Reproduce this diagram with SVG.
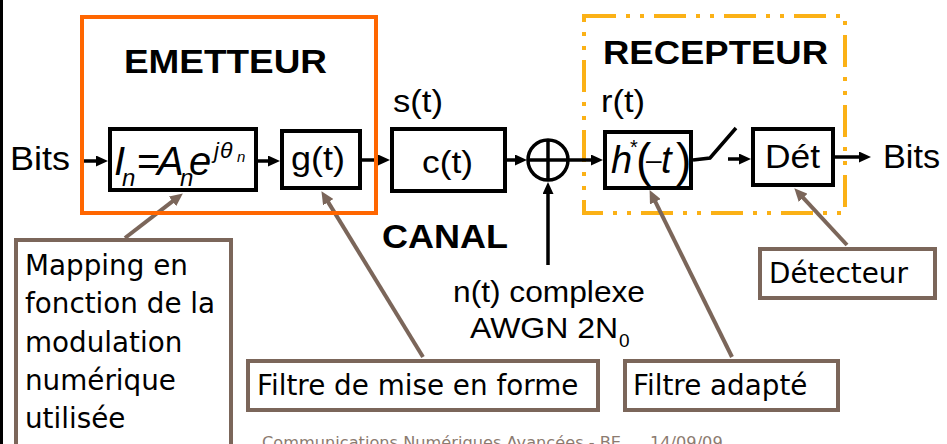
<svg xmlns="http://www.w3.org/2000/svg" width="947" height="444" viewBox="0 0 947 444">
<defs>
<style>
.a{font-family:"Liberation Sans",Arial,sans-serif;fill:#000}
.b{font-family:"Liberation Sans",Arial,sans-serif;font-weight:bold;fill:#000}
.i{font-family:"Liberation Sans",Arial,sans-serif;font-style:italic;fill:#000}
.t{font-family:"DejaVu Sans",Verdana,sans-serif;font-size:27.8px;fill:#000}
.blk{fill:#fff;stroke:#000;stroke-width:4}
.note{fill:#fff;stroke:#7b665a;stroke-width:4}
.w{stroke:#000;stroke-width:3.5;fill:none}
.br{stroke:#7b665a;stroke-width:4;fill:none}
</style>
<marker id="ah" markerUnits="userSpaceOnUse" markerWidth="12" markerHeight="11" refX="6" refY="5.5" orient="auto">
<path d="M0,0 L12,5.5 L0,11 z" fill="#000"/>
</marker>
<marker id="bh" markerUnits="userSpaceOnUse" markerWidth="13" markerHeight="12" refX="6" refY="6" orient="auto">
<path d="M0,0 L13,6 L0,12 z" fill="#7b665a"/>
</marker>
</defs>
<rect x="0" y="0" width="947" height="444" fill="#fff"/>
<rect x="0" y="0" width="3" height="444" fill="#000"/>

<g id="emetteur">
<text class="b" x="124" y="73" font-size="33" textLength="203" lengthAdjust="spacingAndGlyphs">EMETTEUR</text>
</g>
<g id="recepteur">
<rect x="584" y="16" width="261" height="197" fill="none" stroke="#FBB116" stroke-width="4" stroke-dasharray="32 10 4 10 4 10"/>
<text class="b" x="603" y="64" font-size="33" textLength="225" lengthAdjust="spacingAndGlyphs">RECEPTEUR</text>
</g>

<g id="connectors">
<line class="w" x1="83" y1="161" x2="102" y2="161" marker-end="url(#ah)"/>
<line class="w" x1="258" y1="161" x2="274" y2="161" marker-end="url(#ah)"/>
<line class="w" x1="362" y1="160" x2="384" y2="160" marker-end="url(#ah)"/>
<line class="w" x1="507" y1="160" x2="521" y2="160" marker-end="url(#ah)"/>
<line class="w" x1="568" y1="160" x2="597" y2="160" marker-end="url(#ah)"/>
<line class="w" x1="548" y1="265" x2="548" y2="188" marker-end="url(#ah)"/>
<polyline class="w" points="693,160 710,158 736,128"/>
<line class="w" x1="728" y1="159" x2="745" y2="159" marker-end="url(#ah)"/>
<line class="w" x1="835" y1="157" x2="865" y2="157" marker-end="url(#ah)"/>
<line class="br" x1="125" y1="238" x2="177.3" y2="197.7" marker-end="url(#bh)"/>
<line class="br" x1="423" y1="357" x2="325.1" y2="197.1" marker-end="url(#bh)"/>
<line class="br" x1="732" y1="357" x2="652.7" y2="196.4" marker-end="url(#bh)"/>
<line class="br" x1="847" y1="245" x2="799.1" y2="193.4" marker-end="url(#bh)"/>
</g>

<g id="orange-frame">
<rect x="82" y="17" width="294" height="196" fill="none" stroke="#FF6600" stroke-width="4"/>
</g>

<g id="bits-in">
<text class="a" x="10" y="170" font-size="34" textLength="60" lengthAdjust="spacingAndGlyphs">Bits</text>
</g>

<g id="mapping-block">
<rect class="blk" x="110" y="129" width="146" height="61"/>
<text class="i" font-size="40"><tspan x="114" y="175">I</tspan><tspan x="122" y="186" font-size="24">n</tspan><tspan x="137" y="175" font-style="normal">=</tspan><tspan x="157" y="175">A</tspan><tspan x="180" y="186" font-size="24">n</tspan><tspan x="189" y="175">e</tspan><tspan x="214" y="158" font-size="22">j</tspan><tspan x="220" y="158" font-size="23">θ</tspan><tspan x="237" y="162" font-size="15">n</tspan></text>
</g>

<g id="g-block">
<rect class="blk" x="282" y="131" width="78" height="57"/>
<text class="a" x="291" y="170" font-size="33" textLength="54" lengthAdjust="spacingAndGlyphs">g(t)</text>
</g>

<g id="c-block">
<text class="a" x="393" y="112" font-size="32" textLength="50" lengthAdjust="spacingAndGlyphs">s(t)</text>
<rect class="blk" x="392" y="129" width="113" height="62"/>
<text class="a" x="422" y="173" font-size="32" textLength="51" lengthAdjust="spacingAndGlyphs">c(t)</text>
</g>

<g id="canal">
<text class="b" x="382" y="248" font-size="34" textLength="126" lengthAdjust="spacingAndGlyphs">CANAL</text>
</g>

<g id="adder">
<circle cx="548" cy="160" r="20" fill="#fff" stroke="#000" stroke-width="3.5"/>
<line class="w" x1="528" y1="160" x2="568" y2="160"/>
<line class="w" x1="548" y1="140" x2="548" y2="180"/>
</g>

<g id="noise">
<text class="a" x="453" y="302" font-size="30" textLength="192" lengthAdjust="spacingAndGlyphs">n(t) complexe</text>
<text class="a" x="470" y="338" font-size="30" textLength="148" lengthAdjust="spacingAndGlyphs">AWGN 2N</text>
<text class="a" x="619" y="347" font-size="19">0</text>
</g>

<g id="h-block">
<text class="a" x="601" y="112" font-size="32" textLength="44" lengthAdjust="spacingAndGlyphs">r(t)</text>
<rect class="blk" x="605" y="132" width="86" height="56"/>
<text class="i" font-size="38"><tspan x="611" y="173">h</tspan><tspan x="630" y="154" font-size="20" font-style="normal">*</tspan><tspan x="636" y="176" font-size="46" font-style="normal">(</tspan><tspan x="646" y="169" font-size="28" font-style="normal">–</tspan><tspan x="661" y="173">t</tspan><tspan x="676" y="176" font-size="46" font-style="normal">)</tspan></text>
</g>

<g id="det-block">
<rect class="blk" x="753" y="129" width="80" height="56"/>
<text class="a" x="765" y="168" font-size="33" textLength="55" lengthAdjust="spacingAndGlyphs">Dét</text>
</g>

<g id="bits-out">
<text class="a" x="883" y="168" font-size="34" textLength="57" lengthAdjust="spacingAndGlyphs">Bits</text>
</g>

<g id="note-mapping">
<rect class="note" x="16" y="240" width="215" height="230"/>
<text class="t" x="25" y="275">Mapping en</text>
<text class="t" x="25" y="313">fonction de la</text>
<text class="t" x="25" y="352">modulation</text>
<text class="t" x="25" y="390">numérique</text>
<text class="t" x="25" y="428">utilisée</text>
</g>

<g id="note-filtre-forme">
<rect class="note" x="248" y="361" width="350" height="49"/>
<text class="t" x="257" y="395">Filtre de mise en forme</text>
</g>

<g id="note-filtre-adapte">
<rect class="note" x="625" y="361" width="213" height="49"/>
<text class="t" x="633" y="395">Filtre adapté</text>
</g>

<g id="note-detecteur">
<rect class="note" x="760" y="249" width="175" height="49"/>
<text class="t" x="769" y="283">Détecteur</text>
</g>

<g id="footer">
<text x="262" y="448" font-family="DejaVu Sans, Verdana, sans-serif" font-size="16.2" fill="#8c7b70">Communications Numériques Avancées - BE</text>
<text x="650" y="448" font-family="DejaVu Sans, Verdana, sans-serif" font-size="16.2" fill="#8c7b70">14/09/09</text>
</g>
</svg>
